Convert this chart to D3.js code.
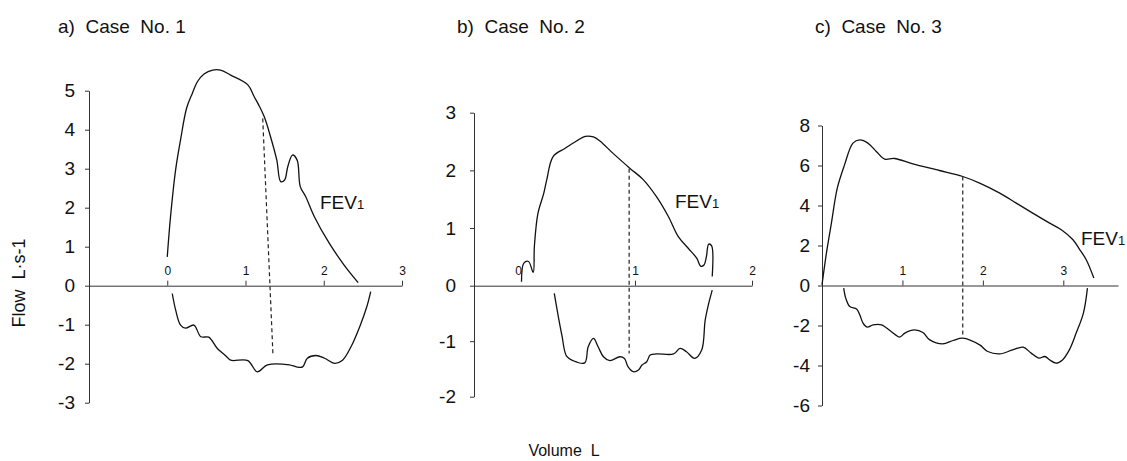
<!DOCTYPE html>
<meta charset="utf-8">
<style>
    body { margin: 0; background: #fff; }
    svg { font-family: "Liberation Sans", Arial, sans-serif; }
    text { white-space: pre; }
    .curve { fill: none; stroke: #111; stroke-width: 1.3px; }
    .fev { fill: none; stroke: #222; stroke-width: 1.2px; stroke-dasharray: 4, 3; }
    .axis path, .axis line { stroke: #333; stroke-width: 1px; }
    .axis text { fill: #111; }
    .lbl { fill: #111; }
</style>
<svg width="1127" height="461"></svg>
<script src="https://d3js.org/d3.v7.min.js"></script>
<script>

    // titles and ticks
    var caseTitles = ["a)  Case  No. 1", "b)  Case  No. 2", "c)  Case  No. 3"];
    var yTicksA = [-3, -2, -1, 0, 1, 2, 3, 4, 5],
        yTicksB = [-2, -1, 0, 1, 2, 3],
        yTicksC = [-6, -4, -2, 0, 2, 4, 6, 8];
    var xTicksA = [0, 1, 2, 3],
        xTicksB = [0, 1, 2],
        xTicksC = [1, 2, 3];

    // [volume L, flow L/s], expiration (upper) and inspiration (lower)
    var expA = [[0, 0.74], [0.042, 1.77], [0.107, 2.97], [0.17, 3.74], [0.247, 4.55], [0.32, 4.93], [0.385, 5.23],
        [0.47, 5.43], [0.58, 5.53], [0.68, 5.53], [0.81, 5.40], [1.03, 5.15], [1.11, 4.85], [1.17, 4.63],
        [1.24, 4.33], [1.32, 3.82], [1.40, 3.22], [1.45, 2.67], [1.50, 2.71], [1.54, 3.05], [1.60, 3.35],
        [1.66, 3.22], [1.70, 2.54], [1.77, 2.28], [1.88, 1.77], [2.07, 1.09], [2.26, 0.53], [2.44, 0.08]];
    var inspA = [[0.064, -0.2], [0.107, -0.62], [0.17, -1.01], [0.235, -1.09], [0.34, -1.01], [0.43, -1.31],
        [0.53, -1.32], [0.64, -1.61], [0.75, -1.80], [0.81, -1.91], [1.03, -1.92], [1.15, -2.21], [1.28, -2.03],
        [1.56, -2.03], [1.65, -2.08], [1.73, -2.08], [1.79, -1.86], [1.90, -1.79], [2.01, -1.86], [2.14, -1.99],
        [2.24, -1.91], [2.35, -1.56], [2.46, -1.05], [2.55, -0.54], [2.60, -0.15]];
    var fevA = [[1.22, 4.29], [1.35, -1.73]];

    var expB = [[0.03, 0.07], [0.05, 0.39], [0.09, 0.42], [0.13, 0.23], [0.14, 0.68], [0.17, 1.25], [0.22, 1.60],
        [0.245, 1.83], [0.30, 2.24], [0.40, 2.38], [0.50, 2.51], [0.575, 2.59], [0.645, 2.58], [0.70, 2.51],
        [0.815, 2.29], [0.96, 2.03], [1.07, 1.84], [1.185, 1.54], [1.285, 1.20], [1.37, 0.85], [1.455, 0.65],
        [1.53, 0.47], [1.56, 0.34], [1.59, 0.36], [1.61, 0.50], [1.63, 0.72], [1.655, 0.69], [1.66, 0.16]];
    var inspB = [[0.31, -0.14], [0.345, -0.56], [0.375, -0.89], [0.415, -1.27], [0.47, -1.35], [0.57, -1.39],
        [0.60, -1.10], [0.645, -0.95], [0.685, -1.10], [0.73, -1.28], [0.785, -1.35], [0.87, -1.28], [0.91, -1.31],
        [0.94, -1.46], [0.985, -1.55], [1.03, -1.52], [1.06, -1.43], [1.10, -1.37], [1.13, -1.25], [1.185, -1.23],
        [1.33, -1.23], [1.385, -1.13], [1.44, -1.19], [1.51, -1.31], [1.57, -1.16], [1.60, -0.62], [1.63, -0.32],
        [1.66, -0.08]];
    var fevB = [[0.95, 2.03], [0.95, -1.22]];

    var expC = [[0, 0.03], [0.055, 1.62], [0.117, 3.12], [0.19, 4.87], [0.28, 6.03], [0.385, 7.12], [0.47, 7.28],
        [0.57, 7.12], [0.675, 6.70], [0.78, 6.32], [0.90, 6.35], [1.13, 6.08], [1.46, 5.75], [1.75, 5.45],
        [1.96, 5.12], [2.21, 4.62], [2.415, 4.12], [2.62, 3.62], [2.83, 3.12], [2.975, 2.79], [3.12, 2.29],
        [3.20, 1.82], [3.285, 1.29], [3.38, 0.37]];
    var inspC = [[0.27, -0.13], [0.295, -0.63], [0.345, -1.05], [0.43, -1.18], [0.47, -1.47], [0.51, -1.88],
        [0.56, -2.08], [0.635, -1.97], [0.74, -1.97], [0.86, -2.30], [0.965, -2.58], [1.03, -2.38], [1.15, -2.22],
        [1.255, -2.35], [1.34, -2.72], [1.50, -2.92], [1.63, -2.75], [1.75, -2.63], [1.96, -2.97], [2.06, -3.30],
        [2.21, -3.42], [2.37, -3.22], [2.50, -3.08], [2.60, -3.38], [2.70, -3.63], [2.77, -3.55], [2.83, -3.72],
        [2.91, -3.88], [2.99, -3.72], [3.075, -3.22], [3.16, -2.38], [3.25, -1.38], [3.30, -0.13]];
    var fevC = [[1.75, 5.45], [1.75, -2.47]];

    var svg = d3.select("svg");
    var plain = function (d) { return String(d); };   // keep hyphen-minus like the original

    var panels = [
        { title: caseTitles[0], tx: 58, exp: expA, insp: inspA, fev: fevA, fevLbl: [320, 209],
          x: d3.scaleLinear([-1, 3], [89, 402]), y: d3.scaleLinear([-3, 5], [402.7, 90.7]),
          xt: xTicksA, yt: yTicksA, pad: 10, hideZeroTick: false },
        { title: caseTitles[1], tx: 457, exp: expB, insp: inspB, fev: fevB, fevLbl: [675, 208],
          x: d3.scaleLinear([-0.376, 2], [474, 752]), y: d3.scaleLinear([-2, 0, 3], [396.7, 285.7, 112.7]),
          xt: xTicksB, yt: yTicksB, pad: 14, hideZeroTick: true },
        { title: caseTitles[2], tx: 815, exp: expC, insp: inspC, fev: fevC, fevLbl: [1081, 245],
          x: d3.scaleLinear([0, 3.68], [822, 1118]), y: d3.scaleLinear([-6, 8], [405.5, 125.5]),
          xt: xTicksC, yt: yTicksC, pad: 8, hideZeroTick: false }
    ];

    panels.forEach(function (p) {
        var g = svg.append("g");

        g.append("text").attr("class", "lbl")
            .attr("x", p.tx).attr("y", 33)
            .style("font-size", "19px")
            .text(p.title);

        // y axis
        var ya = g.append("g").attr("class", "axis")
            .attr("transform", "translate(" + p.x.range()[0] + ",0)")
            .call(d3.axisLeft(p.y).tickValues(p.yt).tickFormat(plain)
                .tickSize(4).tickSizeOuter(0).tickPadding(p.pad));
        ya.selectAll("text").style("font-size", "19px").attr("font-family", null);

        // x axis at flow = 0, labels above
        var xa = g.append("g").attr("class", "axis")
            .attr("transform", "translate(0," + p.y(0) + ")")
            .call(d3.axisTop(p.x).tickValues(p.xt).tickFormat(plain)
                .tickSize(5).tickSizeOuter(0).tickPadding(6));
        xa.selectAll("text").style("font-size", "12px").attr("font-family", null);
        if (p.hideZeroTick) xa.selectAll(".tick").filter(function (d) { return d === 0; }).select("line").remove();

        var line = d3.line()
            .x(function (d) { return p.x(d[0]); })
            .y(function (d) { return p.y(d[1]); })
            .curve(d3.curveCatmullRom.alpha(0.5));

        g.append("path").attr("class", "curve").attr("d", line(p.exp));
        g.append("path").attr("class", "curve").attr("d", line(p.insp));
        g.append("path").attr("class", "fev").attr("d", d3.line()
            .x(function (d) { return p.x(d[0]); })
            .y(function (d) { return p.y(d[1]); })(p.fev));

        var ft = g.append("text").attr("class", "lbl")
            .attr("x", p.fevLbl[0]).attr("y", p.fevLbl[1])
            .style("font-size", "19px");
        ft.append("tspan").text("FEV");
        ft.append("tspan").style("font-size", "13px").text("1");
    });

    svg.append("text").attr("class", "lbl")
        .attr("transform", "translate(25,283) rotate(-90)")
        .attr("text-anchor", "middle")
        .style("font-size", "18px")
        .text("Flow  L·s-1");

    svg.append("text").attr("class", "lbl")
        .attr("x", 564).attr("y", 456)
        .attr("text-anchor", "middle")
        .style("font-size", "16px")
        .text("Volume  L");

</script>
